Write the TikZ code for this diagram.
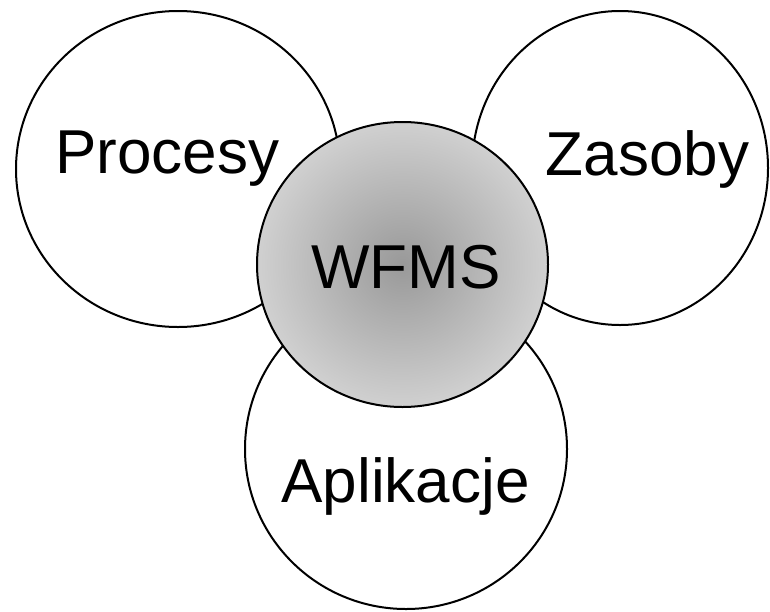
\documentclass[tikz,border=0pt]{standalone}
\usepackage{fontspec}
\setmainfont{Liberation Sans}
\usetikzlibrary{shapes.geometric}
\pgfdeclareradialshading{wfmsglow}{\pgfpoint{0bp}{0bp}}{color(0bp)=(black!40); color(30bp)=(black!14); color(50bp)=(black!13)}

\begin{document}
\begin{tikzpicture}[x=0.5pt, y=-0.5pt,
  area/.style={ellipse, draw, line width=1pt, fill=white, inner sep=0pt},
  core/.style={area, shading=wfmsglow},
  areatext/.style={anchor=base, inner sep=0pt, font=\fontsize{31}{36}\selectfont}]
\def\Area#1#2#3#4#5#6{
\node[#1, minimum width=#5pt, minimum height=#6pt] (#2) at (#3,#4) {};
}
\useasboundingbox (0,0) rectangle (770,611);

% outer areas
\Area{area}{procesy}{178}{169}{162}{158}
\Area{area}{zasoby}{620}{168}{148}{157}
\Area{area}{aplikacje}{406}{449}{161}{160}
% the system in the middle
\Area{core}{wfms}{402.5}{264.5}{145.5}{142.5}

\node[areatext] (procesytext) at (167.5,173) {Procesy};
\node[areatext] (zasobytext) at (647.5,175) {Zasoby};
\node[areatext] (aplikacjetext) at (405.5,502) {Aplikacje};
\node[areatext] (wfmstext) at (406,288) {WFMS};
\end{tikzpicture}
\end{document}
